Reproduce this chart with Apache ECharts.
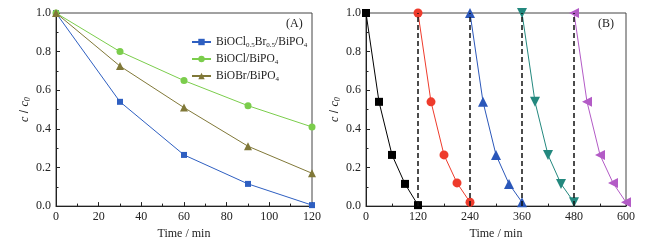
<!DOCTYPE html>
<html>
<head>
<meta charset="utf-8">
<script src="https://cdn.jsdelivr.net/npm/echarts@6/dist/echarts.min.js"></script>
<style>
  html, body { margin: 0; padding: 0; background: #fff; }
  #chart { width: 659px; height: 245px; }
</style>
</head>
<body>
<div id="chart"></div>
<script>
// (A) three catalysts, c/c0 vs time
const timesA = [0, 30, 60, 90, 120];
const mixedA = [1.0, 0.54, 0.265, 0.115, 0.005];
const oclA = [1.0, 0.80, 0.65, 0.52, 0.41];
const obrA = [1.0, 0.725, 0.51, 0.31, 0.17];

// (B) five recycling runs
const run1 = [[0, 1.0], [30, 0.54], [60, 0.265], [90, 0.115], [120, 0.005]];
const run2 = [[120, 1.0], [150, 0.54], [180, 0.265], [210, 0.12], [240, 0.02]];
const run3 = [[240, 1.0], [270, 0.54], [300, 0.265], [330, 0.115], [360, 0.02]];
const run4 = [[360, 1.0], [390, 0.54], [420, 0.265], [450, 0.115], [480, 0.02]];
const run5 = [[480, 1.0], [510, 0.54], [540, 0.265], [570, 0.12], [600, 0.02]];
const cycleEdges = [120, 240, 360, 480];

const font = "'Liberation Serif', 'DejaVu Serif', serif";
const ink = "#222";

const chart = echarts.init(document.getElementById("chart"));

const sub = { fontSize: 8, fontFamily: font, color: ink, verticalAlign: "bottom", lineHeight: 14, padding: [6, 0, 0, 0] };
const plain = { fontSize: 12, fontFamily: font, color: ink, lineHeight: 14 };
const legSub = { ...sub, fontSize: 7 };
const legText = { ...plain, fontSize: 11.5 };

function xAxisFor(gridIndex, max, interval) {
  return {
    gridIndex, type: "value", min: 0, max, interval,
    name: "Time / min", nameLocation: "middle", nameGap: 21,
    nameTextStyle: { fontFamily: font, fontSize: 12, color: ink },
    axisLine: { lineStyle: { color: ink, width: 1 } },
    axisTick: { inside: true, length: 4, lineStyle: { color: ink } },
    minorTick: { show: true, splitNumber: 2, length: 2.5, lineStyle: { color: ink } },
    axisLabel: { fontFamily: font, fontSize: 12, color: ink, margin: 5 },
    splitLine: { show: false },
  };
}

function yAxisFor(gridIndex) {
  return {
    gridIndex, type: "value", min: 0, max: 1, interval: 0.2,
    name: "{i|c} / {i|c}{s|0}", nameLocation: "middle", nameGap: 24,
    nameTextStyle: { rich: { i: { ...plain, fontStyle: "italic" }, s: { ...sub, fontStyle: "italic" } } },
    axisLine: { lineStyle: { color: ink, width: 1 } },
    axisTick: { inside: true, length: 4, lineStyle: { color: ink } },
    minorTick: { show: true, splitNumber: 2, length: 2.5, lineStyle: { color: ink } },
    axisLabel: { fontFamily: font, fontSize: 12, color: ink, margin: 5, formatter: (v) => v.toFixed(1) },
    splitLine: { show: false },
  };
}

function lineA(name, values, color, symbol, size) {
  return {
    name, type: "line", xAxisIndex: 0, yAxisIndex: 0,
    data: timesA.map((t, i) => [t, values[i]]),
    symbol, symbolSize: size, color,
    lineStyle: { color, width: 1 }, itemStyle: { color },
  };
}

function lineB(data, color, symbol, size, rotate) {
  return {
    type: "line", xAxisIndex: 1, yAxisIndex: 1, data,
    symbol, symbolSize: size, symbolRotate: rotate || 0,
    lineStyle: { color, width: 1 }, itemStyle: { color },
  };
}

const seriesB = [
  lineB(run1, "#000000", "rect", 8),
  lineB(run2, "#ee3b2c", "circle", 9),
  lineB(run3, "#2b57b9", "triangle", 10),
  lineB(run4, "#23887e", "triangle", 10, 180),
  lineB(run5, "#b35bc6", "triangle", 10, 90),
];
seriesB[0].markLine = {
  silent: true, symbol: "none", animation: false,
  label: { show: false },
  lineStyle: { color: "#111", width: 1.5, type: [5, 3] },
  data: cycleEdges.map((x) => ({ xAxis: x })),
};

const option = {
  animation: false,
  grid: [
    { left: 56, top: 13, width: 256, height: 194, show: true, borderColor: "#444", borderWidth: 1 },
    { left: 366, top: 13, width: 260, height: 194, show: true, borderColor: "#444", borderWidth: 1 },
  ],
  xAxis: [xAxisFor(0, 120, 20), xAxisFor(1, 600, 120)],
  yAxis: [yAxisFor(0), yAxisFor(1)],
  legend: {
    left: 186, top: 30, orient: "vertical", itemGap: 3, itemWidth: 19, itemHeight: 8,
    data: ["mixed", "ocl", "obr"],
    textStyle: { ...legText, rich: { t: legText, s: legSub } },
    formatter: (n) => ({
      mixed: "{t|BiOCl}{s|0.5}{t|Br}{s|0.5}{t|/BiPO}{s|4}",
      ocl: "{t|BiOCl/BiPO}{s|4}",
      obr: "{t|BiOBr/BiPO}{s|4}",
    })[n],
  },
  graphic: [
    { type: "text", left: 286, top: 18, style: { text: "(A)", font: "12px " + font, fill: ink } },
    { type: "text", left: 598, top: 18, style: { text: "(B)", font: "12px " + font, fill: ink } },
  ],
  series: [
    lineA("mixed", mixedA, "#2e5fc1", "rect", 6),
    lineA("ocl", oclA, "#7bcd4c", "circle", 7),
    lineA("obr", obrA, "#807838", "triangle", 8),
    ...seriesB,
  ],
};

chart.setOption(option);
</script>
</body>
</html>
